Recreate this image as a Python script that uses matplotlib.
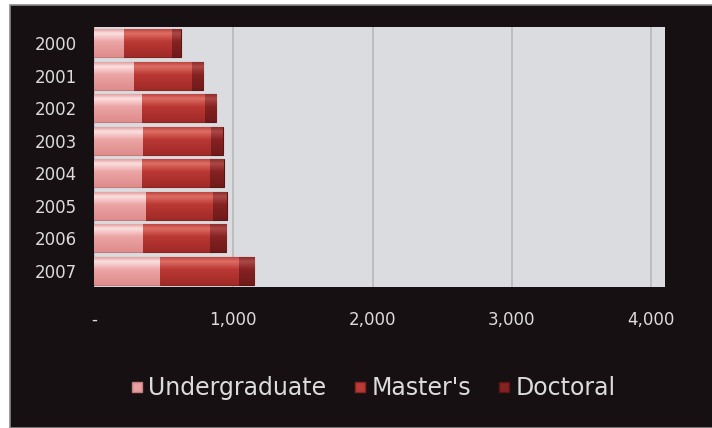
import numpy as np
import matplotlib
matplotlib.use("Agg")
import matplotlib.pyplot as plt
from matplotlib.lines import Line2D
from matplotlib.patches import Rectangle

plt.rcParams["font.family"] = ["DejaVu Sans"]

# ---- data ----
years = ["2000", "2001", "2002", "2003", "2004", "2005", "2006", "2007"]
undergrad = [218, 288, 343, 355, 343, 372, 355, 475]
masters = [345, 415, 456, 487, 492, 486, 480, 563]
doctoral = [63, 79, 79, 84, 96, 97, 115, 113]
series_names = ["Undergraduate", "Master's", "Doctoral"]
xticks = [0, 1000, 2000, 3000, 4000]
xtick_labels = ["-", "1,000", "2,000", "3,000", "4,000"]

# colour stops top -> bottom for each series (shiny excel look)
stops = [0.0, 0.15, 0.45, 1.0]
shades = [
    [(228, 160, 160), (252, 224, 224), (236, 164, 164), (222, 140, 140)],
    [(190, 70, 65), (222, 110, 100), (186, 56, 52), (160, 42, 40)],
    [(140, 45, 45), (172, 72, 70), (134, 34, 34), (112, 26, 26)],
]
base_cols = ["#e8a0a0", "#bb3a36", "#862222"]
edge_cols = ["#c27c7c", "#8a2420", "#5e1414"]
text_col = "#dcdcdc"
bg_black = "#161012"


def gradient(cols, n=60):
    t = np.linspace(0, 1, n)
    cols = np.array(cols) / 255.0
    img = np.stack([np.interp(t, stops, cols[:, k]) for k in range(3)], axis=1)
    return img.reshape(n, 1, 3)


fig = plt.figure(figsize=(7.12, 4.28), dpi=100, facecolor="white")
# black panel with a thin grey rim, like the pasted chart
fig.patches.append(Rectangle((10 / 712, 0), 1, 1 - 5 / 428, transform=fig.transFigure,
                             facecolor=bg_black, edgecolor="#8a8a8a", linewidth=1.2,
                             zorder=-10))

ax = fig.add_axes([94 / 712, 1 - 287 / 428, (665 - 94) / 712, (287 - 27) / 428])
ax.set_facecolor("#dbdcdf")

y = np.arange(len(years))
left = np.zeros(len(years))
for i, vals in enumerate([undergrad, masters, doctoral]):
    bars = ax.barh(y, vals, left=left, height=0.86, color=base_cols[i],
                   edgecolor=edge_cols[i], linewidth=0.8, zorder=3)
    img = gradient(shades[i])
    for b in bars:
        x0, y0, w, h = b.get_x(), b.get_y(), b.get_width(), b.get_height()
        im = ax.imshow(img, extent=(x0, x0 + w, y0 + h, y0), aspect="auto",
                       interpolation="bilinear", zorder=3.5)
        im.set_clip_path(b)
    left += np.array(vals)

ax.set_xlim(0, 4100)
ax.set_ylim(len(years) - 0.5, -0.5)
ax.set_yticks(y)
ax.set_yticklabels(years)
ax.set_xticks(xticks)
ax.set_xticklabels(xtick_labels)
ax.tick_params(axis="y", length=0, pad=12, labelsize=12, labelcolor=text_col)
ax.tick_params(axis="x", length=0, pad=17, labelsize=12, labelcolor=text_col)
ax.grid(axis="x", color="#b9b9bb", linewidth=1.2, zorder=1)
for s in ax.spines.values():
    s.set_visible(False)

handles = [Line2D([], [], marker="s", linestyle="none", markersize=6.5,
                  markerfacecolor=base_cols[i], markeredgecolor=edge_cols[i])
           for i in range(3)]
fig.legend(handles, series_names, loc="center", bbox_to_anchor=(0.521, 0.093),
           ncol=3, frameon=False, fontsize=17, labelcolor=text_col,
           handletextpad=0.05, columnspacing=0.95, handlelength=0.9)

fig.savefig("out.png", dpi=100, facecolor=fig.get_facecolor())
